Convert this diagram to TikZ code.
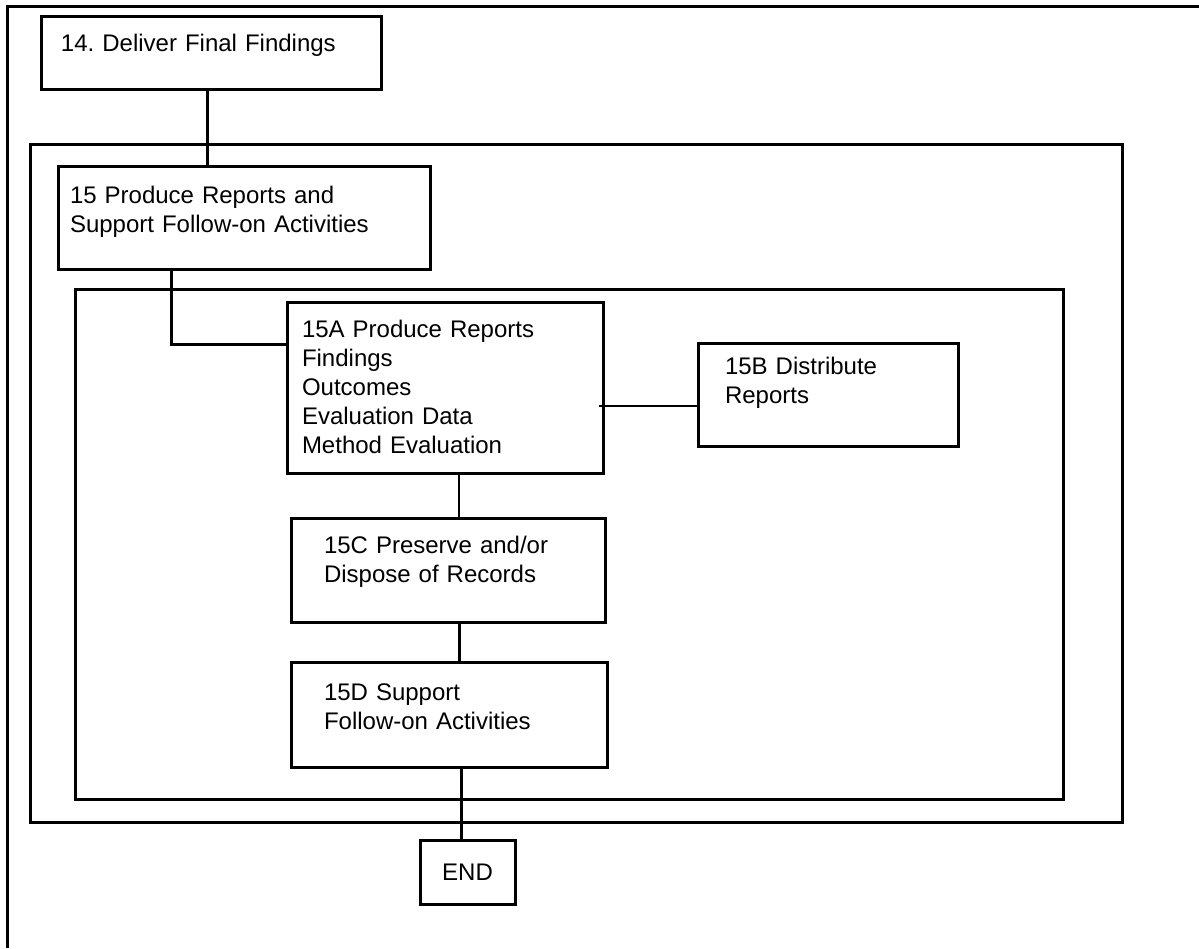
\documentclass[tikz,border=0pt]{standalone}
\usepackage{fontspec}
\setmainfont{Liberation Sans}
\usepackage{tikz}
\usetikzlibrary{positioning}
\usepackage{xcolor}
\definecolor{ink}{RGB}{0,0,0}
\frenchspacing
\tikzset{
  procbox/.style={draw=ink,line width=1.5pt,anchor=north west,outer sep=0pt,inner ysep=0pt,
    align=left,font=\fontsize{12}{14.5}\selectfont},
  endbox/.style={draw=ink,line width=1.5pt,anchor=north west,outer sep=0pt,inner sep=0pt,
    align=center,font=\fontsize{12}{14.5}\selectfont},
  frame/.style={draw=ink,line width=1.5pt},
  link/.style={draw=ink,line width=1.5pt},
  thinlink/.style={draw=ink,line width=0.7pt},
}

\begin{document}
\begin{tikzpicture}[x=0.5pt,y=-0.5pt]
  \useasboundingbox (0,0) rectangle (1199,948);
  \draw[frame] (7,948) -- (7,6) -- (1199,6);
  \draw[frame] (30,144) rectangle (1122,822);
  \draw[frame] (75,289) rectangle (1063,799);

  \node[procbox,inner xsep=10pt,text width=150pt,text height=17.5pt,text depth=19pt] (s14) at (41,16)
    {14. Deliver Final Findings};
  \node[procbox,inner xsep=6pt,text width=174pt,text height=18.5pt,text depth=33pt] (s15) at (58,166)
    {15 Produce Reports and\\Support Follow-on Activities};
  \node[procbox,inner xsep=7.5pt,text width=143pt,text height=17.5pt,text depth=68pt] (s15a) at (287,302)
    {15A Produce Reports\\Findings\\Outcomes\\Evaluation Data\\Method Evaluation};
  \node[procbox,inner xsep=13.5pt,text width=103pt,text height=15.5pt,text depth=36pt] (s15b) at (698,343)
    {15B Distribute\\Reports};
  \node[procbox,inner xsep=16.5pt,text width=124pt,text height=17.5pt,text depth=34.5pt] (s15c) at (291,518)
    {15C Preserve and/or\\Dispose of Records};
  \node[procbox,inner xsep=16.5pt,text width=125pt,text height=19pt,text depth=33.5pt] (s15d) at (291,662)
    {15D Support\\Follow-on Activities};
  \node[endbox,minimum width=47.5pt,minimum height=32pt] (fin) at (420,840) {END};

  \draw[link] ([xshift=-2pt]s14.south) -- ([xshift=-2pt]s14.south |- s15.north);
  \draw[link] ([xshift=-36.5pt]s15.south) |- ([yshift=21.75pt]s15a.west);
  \draw[thinlink] ([xshift=-2pt,yshift=-9.25pt]s15a.east) coordinate (ab) -- (ab -| s15b.west);
  \draw[thinlink] ([xshift=7pt]s15a.south) -- ([xshift=7pt]s15a.south |- s15c.north);
  \draw[link] ([xshift=5.5pt]s15c.south) -- ([xshift=5.5pt]s15c.south |- s15d.north);
  \draw[link] ([xshift=6pt]s15d.south) -- ([xshift=6pt]s15d.south |- fin.north);
\end{tikzpicture}
\end{document}
